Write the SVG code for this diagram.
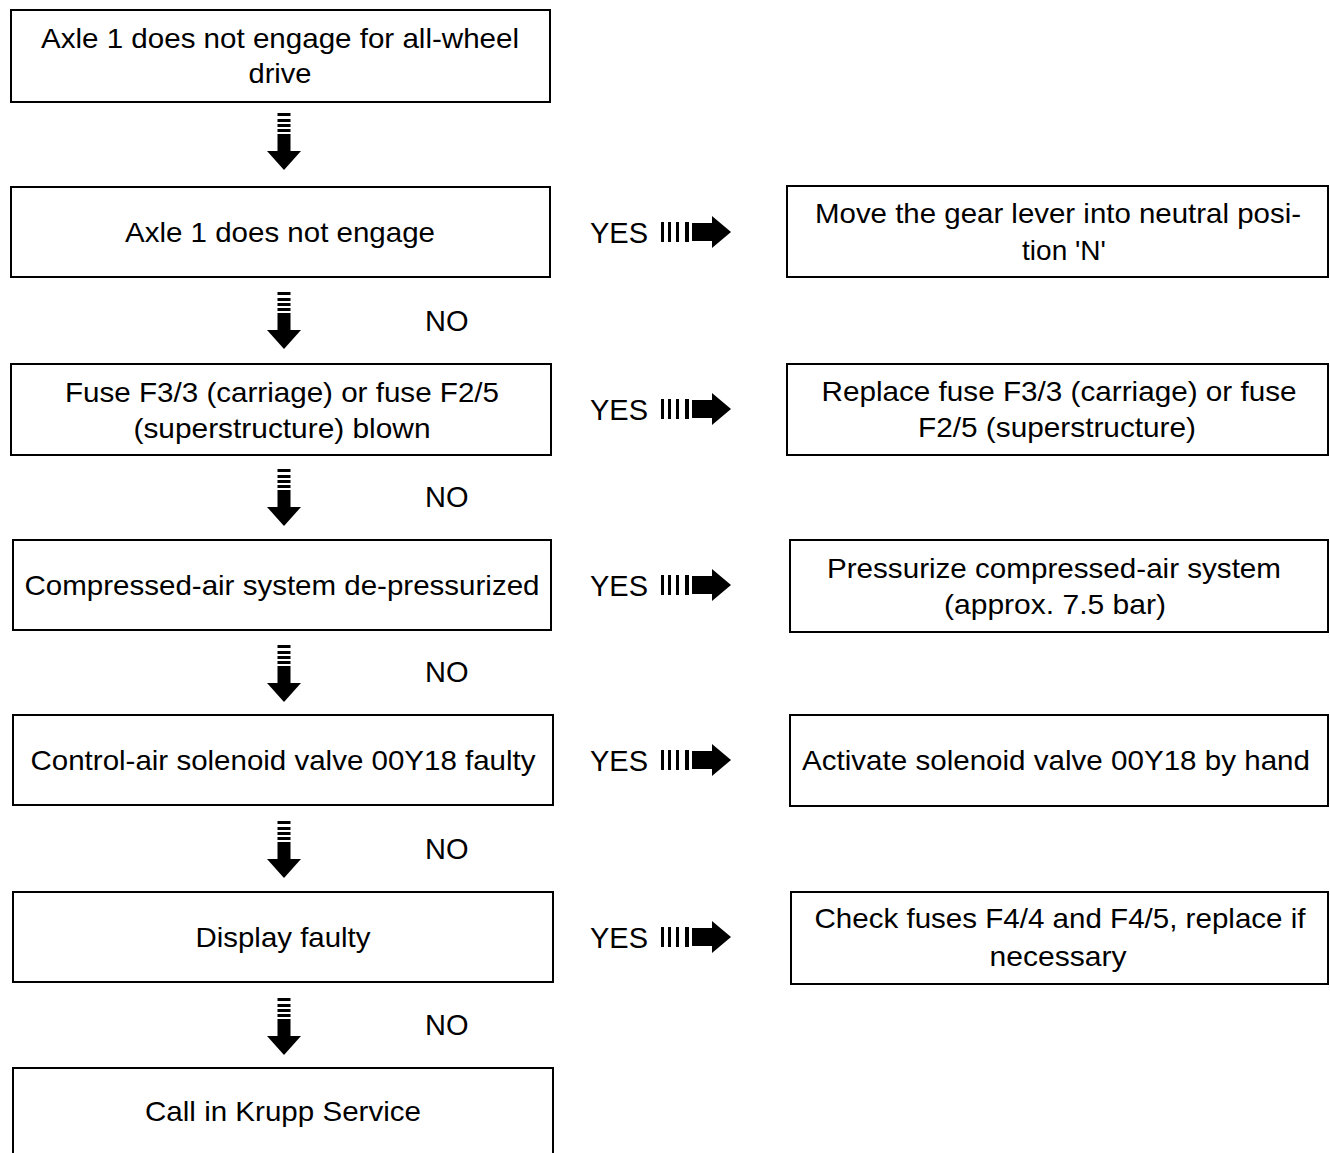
<svg xmlns="http://www.w3.org/2000/svg" width="1330" height="1153" viewBox="0 0 1330 1153">
<style>
.box{fill:#fff;stroke:#000;stroke-width:2}
.t{font-family:"Liberation Sans",Arial,sans-serif;font-size:28px;fill:#000;text-anchor:middle}
.lbl{font-family:"Liberation Sans",Arial,sans-serif;font-size:29px;fill:#000}
.ar{fill:#000}
</style>
<defs>
<g id="darrow">
<rect class="ar" x="-6.5" y="0" width="13" height="3"/>
<rect class="ar" x="-6.5" y="6" width="13" height="3"/>
<rect class="ar" x="-6.5" y="11" width="13" height="3"/>
<rect class="ar" x="-6.5" y="16" width="13" height="3"/>
<rect class="ar" x="-6.5" y="21" width="13" height="19"/>
<polygon class="ar" points="-17,38 17,38 0,57"/>
</g>
<g id="rarrow">
<rect class="ar" x="0" y="-10" width="3" height="20"/>
<rect class="ar" x="7" y="-10" width="3" height="20"/>
<rect class="ar" x="15" y="-10" width="3" height="20"/>
<rect class="ar" x="24" y="-10" width="4" height="20"/>
<rect class="ar" x="31" y="-9" width="22" height="18"/>
<polygon class="ar" points="51,-16 70,0 51,16"/>
</g>
</defs>
<rect width="1330" height="1153" fill="#fff"/>

<g id="connectors">
<use href="#darrow" x="284" y="113"/>
<use href="#darrow" x="284" y="292"/>
<use href="#darrow" x="284" y="469"/>
<use href="#darrow" x="284" y="645"/>
<use href="#darrow" x="284" y="821"/>
<use href="#darrow" x="284" y="998"/>
<text class="lbl" x="425" y="331">NO</text>
<text class="lbl" x="425" y="507">NO</text>
<text class="lbl" x="425" y="682">NO</text>
<text class="lbl" x="425" y="859">NO</text>
<text class="lbl" x="425" y="1035">NO</text>
<text class="lbl" x="590" y="243">YES</text>
<use href="#rarrow" x="661" y="232"/>
<text class="lbl" x="590" y="420">YES</text>
<use href="#rarrow" x="661" y="409"/>
<text class="lbl" x="590" y="596">YES</text>
<use href="#rarrow" x="661" y="585"/>
<text class="lbl" x="590" y="771">YES</text>
<use href="#rarrow" x="661" y="760"/>
<text class="lbl" x="590" y="948">YES</text>
<use href="#rarrow" x="661" y="937"/>
</g>

<g id="n1">
<rect class="box" x="11" y="10" width="539" height="92"/>
<text class="t" x="280" y="48" textLength="478" lengthAdjust="spacingAndGlyphs">Axle 1 does not engage for all-wheel</text>
<text class="t" x="280" y="83" textLength="63" lengthAdjust="spacingAndGlyphs">drive</text>
</g>
<g id="n2">
<rect class="box" x="11" y="187" width="539" height="90"/>
<text class="t" x="280" y="242" textLength="310" lengthAdjust="spacingAndGlyphs">Axle 1 does not engage</text>
</g>
<g id="n3">
<rect class="box" x="11" y="364" width="540" height="91"/>
<text class="t" x="282" y="402" textLength="434" lengthAdjust="spacingAndGlyphs">Fuse F3/3 (carriage) or fuse F2/5</text>
<text class="t" x="282" y="438" textLength="297" lengthAdjust="spacingAndGlyphs">(superstructure) blown</text>
</g>
<g id="n4">
<rect class="box" x="13" y="540" width="538" height="90"/>
<text class="t" x="282" y="595" textLength="515" lengthAdjust="spacingAndGlyphs">Compressed-air system de-pressurized</text>
</g>
<g id="n5">
<rect class="box" x="13" y="715" width="540" height="90"/>
<text class="t" x="283" y="770" textLength="505" lengthAdjust="spacingAndGlyphs">Control-air solenoid valve 00Y18 faulty</text>
</g>
<g id="n6">
<rect class="box" x="13" y="892" width="540" height="90"/>
<text class="t" x="283" y="947" textLength="175" lengthAdjust="spacingAndGlyphs">Display faulty</text>
</g>
<g id="n7">
<rect class="box" x="13" y="1068" width="540" height="100"/>
<text class="t" x="283" y="1121" textLength="276" lengthAdjust="spacingAndGlyphs">Call in Krupp Service</text>
</g>

<g id="r1">
<rect class="box" x="787" y="186" width="541" height="91"/>
<text class="t" x="1058" y="223" textLength="486" lengthAdjust="spacingAndGlyphs">Move the gear lever into neutral posi-</text>
<text class="t" x="1064" y="260">tion 'N'</text>
</g>
<g id="r2">
<rect class="box" x="787" y="364" width="541" height="91"/>
<text class="t" x="1059" y="401" textLength="475" lengthAdjust="spacingAndGlyphs">Replace fuse F3/3 (carriage) or fuse</text>
<text class="t" x="1057" y="437" textLength="278" lengthAdjust="spacingAndGlyphs">F2/5 (superstructure)</text>
</g>
<g id="r3">
<rect class="box" x="790" y="540" width="538" height="92"/>
<text class="t" x="1054" y="578" textLength="454" lengthAdjust="spacingAndGlyphs">Pressurize compressed-air system</text>
<text class="t" x="1055" y="614" textLength="222" lengthAdjust="spacingAndGlyphs">(approx. 7.5 bar)</text>
</g>
<g id="r4">
<rect class="box" x="790" y="715" width="538" height="91"/>
<text class="t" x="1056" y="770" textLength="508" lengthAdjust="spacingAndGlyphs">Activate solenoid valve 00Y18 by hand</text>
</g>
<g id="r5">
<rect class="box" x="791" y="892" width="537" height="92"/>
<text class="t" x="1060" y="928" textLength="491" lengthAdjust="spacingAndGlyphs">Check fuses F4/4 and F4/5, replace if</text>
<text class="t" x="1058" y="966" textLength="137" lengthAdjust="spacingAndGlyphs">necessary</text>
</g>
</svg>
